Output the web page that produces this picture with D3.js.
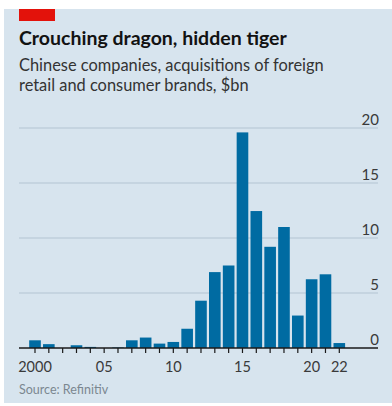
<!DOCTYPE html>
<html>
<head>
<meta charset="utf-8">
<script src="https://cdn.jsdelivr.net/npm/d3@7"></script>
<style>
  html, body { margin: 0; padding: 0; background: #fff; }
  svg { display: block; }
  text { font-family: Lato, "Open Sans", sans-serif; }
</style>
</head>
<body>
<div id="chart"></div>
<script>
// Data: Chinese acquisitions of foreign retail and consumer brands, $bn
const years = d3.range(2000, 2023);
const values = [0.7, 0.35, 0, 0.25, 0.1, 0, 0.05, 0.7, 0.95, 0.4, 0.55, 1.75,
  4.3, 6.9, 7.5, 19.6, 12.45, 9.2, 11.0, 2.95, 6.25, 6.7, 0.45];
const yTicks = [0, 5, 10, 15, 20];
const xLabels = { 2000: "2000", 2005: "05", 2010: "10", 2015: "15", 2020: "20", 2022: "22" };

const width = 392, height = 406;
const plot = { left: 19, right: 378, zero: 348, top: 128 };

const svg = d3.select("#chart").append("svg")
  .attr("width", width)
  .attr("height", height);

// panel background
svg.append("rect")
  .attr("x", 4).attr("y", 9)
  .attr("width", width - 4).attr("height", 394)
  .attr("fill", "#d7e4ee");

// red tag
svg.append("rect")
  .attr("x", 19).attr("y", 9)
  .attr("width", 36).attr("height", 12)
  .attr("fill", "#e3120b");

svg.append("text")
  .attr("x", 19).attr("y", 45)
  .attr("font-size", 19.5)
  .attr("font-weight", 700)
  .attr("fill", "#121212")
  .text("Crouching dragon, hidden tiger");

const sub = svg.append("text")
  .attr("x", 19).attr("y", 71)
  .attr("font-size", 16.4)
  .attr("fill", "#333");
sub.append("tspan").attr("x", 19).text("Chinese companies, acquisitions of foreign");
sub.append("tspan").attr("x", 19).attr("dy", 20).text("retail and consumer brands, $bn");

// scales
const x = d3.scaleBand()
  .domain(years)
  .range([35 - 6.92, 339.3 + 6.92])
  .paddingInner(0.16)
  .paddingOuter(0.08);

const y = d3.scaleLinear()
  .domain([0, 20])
  .range([plot.zero, plot.top]);

// gridlines + labels
const grid = svg.append("g");
grid.selectAll("line")
  .data(yTicks.filter(d => d > 0))
  .join("line")
  .attr("x1", plot.left).attr("x2", plot.right)
  .attr("y1", d => y(d)).attr("y2", d => y(d))
  .attr("stroke", "#b4c4d1")
  .attr("stroke-width", 1.2);

grid.selectAll("text")
  .data(yTicks)
  .join("text")
  .attr("x", 379)
  .attr("y", d => y(d) - 3)
  .attr("text-anchor", "end")
  .attr("font-size", 15)
  .attr("fill", "#3a3a3a")
  .text(d => d);

// bars
svg.append("g")
  .selectAll("rect")
  .data(years.map((yr, i) => ({ yr, v: values[i] })))
  .join("rect")
  .attr("x", d => x(d.yr))
  .attr("width", x.bandwidth())
  .attr("y", d => y(d.v))
  .attr("height", d => plot.zero - y(d.v))
  .attr("fill", "#006ba2");

// x axis
svg.append("line")
  .attr("x1", plot.left).attr("x2", plot.right)
  .attr("y1", plot.zero).attr("y2", plot.zero)
  .attr("stroke", "#1a1a1a")
  .attr("stroke-width", 1.3);

const xAxis = d3.axisBottom(x)
  .tickSize(5)
  .tickSizeOuter(0)
  .tickFormat(d => xLabels[d] || "");

const gx = svg.append("g")
  .attr("transform", `translate(0,${plot.zero})`)
  .call(xAxis);
gx.select(".domain").remove();
gx.selectAll(".tick line").attr("stroke", "#1a1a1a").attr("stroke-width", 1.2);
gx.selectAll(".tick text")
  .attr("font-family", "Lato, sans-serif")
  .attr("font-size", 14.5)
  .attr("fill", "#3a3a3a")
  .attr("y", 13.5);

svg.append("text")
  .attr("x", 19).attr("y", 394)
  .attr("font-size", 12.5)
  .attr("fill", "#7b8790")
  .text("Source: Refinitiv");
</script>
</body>
</html>
